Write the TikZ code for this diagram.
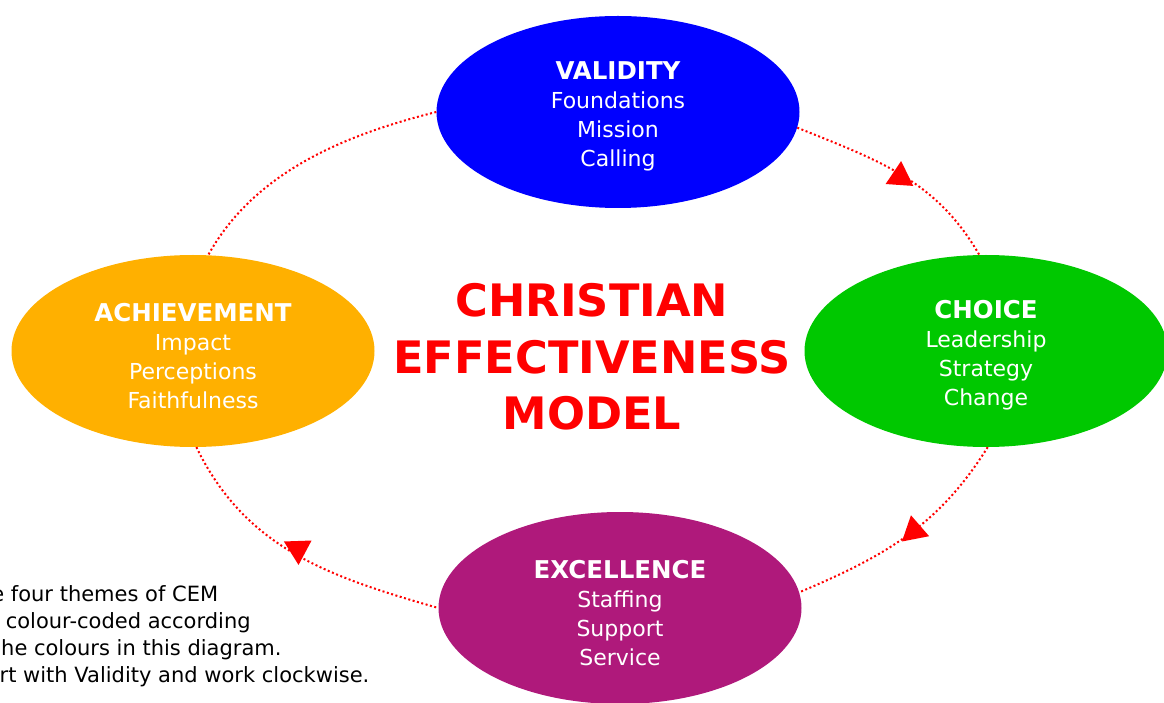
\documentclass[tikz,border=0pt]{standalone}
\usepackage{fontspec}
\setmainfont{DejaVu Sans}
\usetikzlibrary{shapes.geometric}
\definecolor{valblue}{RGB}{0,0,255}
\definecolor{chogreen}{RGB}{0,200,0}
\definecolor{excpurple}{RGB}{175,25,123}
\definecolor{achorange}{RGB}{255,176,0}
\newcommand{\themehead}[1]{{\bfseries\fontsize{24.5}{29}\selectfont\rule{0pt}{27.5pt}#1}}
\begin{document}
\begin{tikzpicture}[x=1pt, y=1pt,
  every node/.style = {align=center},
  theme/.style = {ellipse, minimum width=363pt, minimum height=192pt, inner sep=0pt,
    text=white, font=\fontsize{22}{29}\selectfont},
  link/.style = {red, line width=2pt, dash pattern=on 2pt off 2.5pt},
  marker/.style = {regular polygon, regular polygon sides=3, fill=red, inner sep=0pt,
    minimum size=32pt}]
\useasboundingbox (0,0) rectangle (1164,702);
\node[theme, fill=valblue] (val) at (618,590) {\themehead{VALIDITY}\\Foundations\\Mission\\Calling};
\node[theme, fill=chogreen] (cho) at (986,351) {\themehead{CHOICE}\\Leadership\\Strategy\\Change};
\node[theme, fill=excpurple] (exc) at (620,94) {\themehead{EXCELLENCE}\\Staffing\\Support\\Service};
\node[theme, fill=achorange] (ach) at (193,351) {\themehead{ACHIEVEMENT}\\Impact\\Perceptions\\Faithfulness};
\node[text=red, font=\bfseries\fontsize{44.7}{56.5}\selectfont] (cem) at (592,345) {CHRISTIAN\\EFFECTIVENESS\\MODEL};
\node[anchor=north west, align=left, inner sep=0pt, font=\fontsize{21}{27}\selectfont] (note) at (-35,117)
  {\hphantom{Th}e four themes of CEM\\\hphantom{are }colour-coded according\\\hphantom{to t}he colours in this diagram.\\\hphantom{Sta}rt with Validity and work clockwise.};
\draw[link] (val.-5) to[out=-22, in=120] (cho.94);
\draw[link] (cho.-89) to[out=-122, in=23] (exc.5);
\draw[link] (ach.-88) to[out=-64, in=164] (exc.west);
\draw[link] (val.west) to[out=194, in=61, looseness=0.9] (ach.81);
\node[marker, rotate=-4] (val-cho) at (900,525) {};
\node[marker, rotate=131] (cho-exc) at (914,171) {};
\node[marker, rotate=182] (exc-ach) at (298,153) {};
\end{tikzpicture}
\end{document}
